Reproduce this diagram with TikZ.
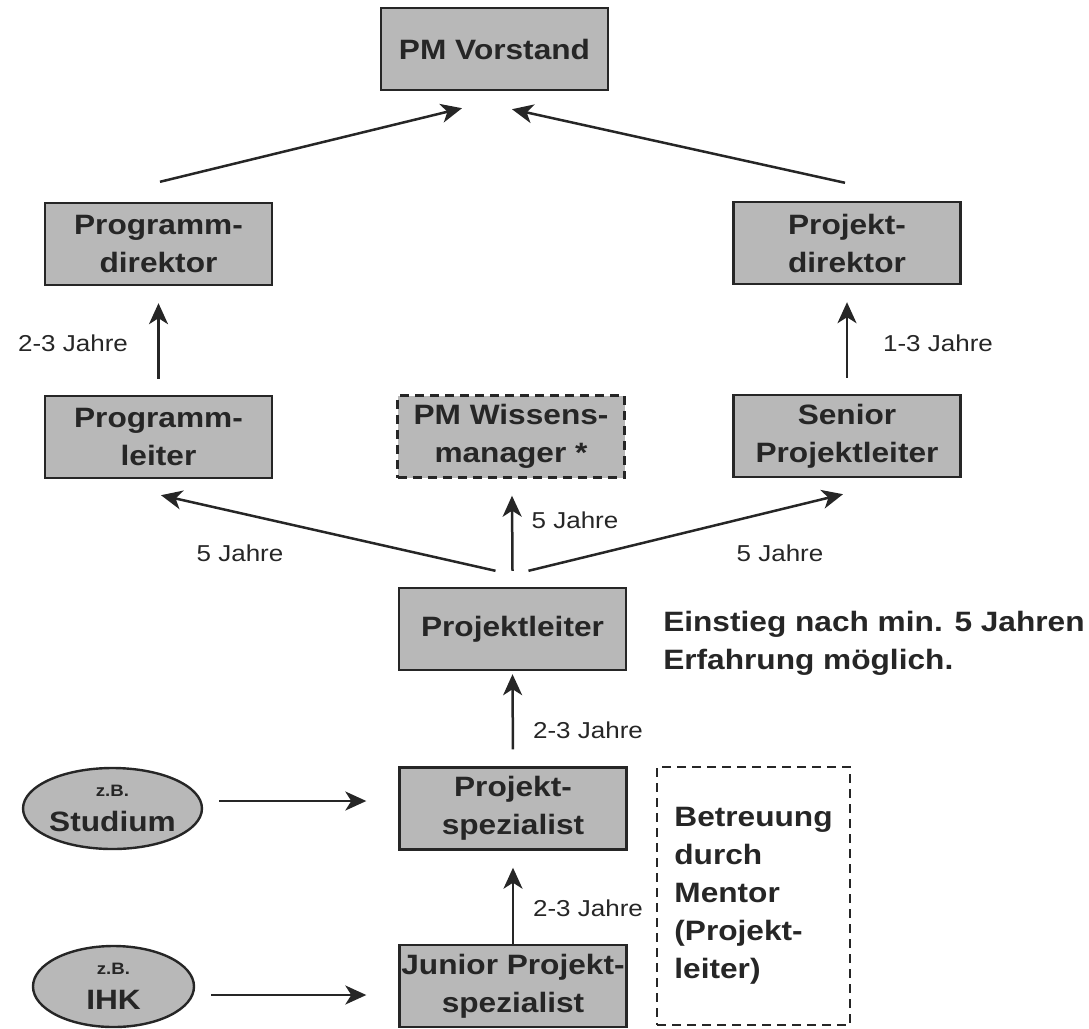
\documentclass[tikz,border=0pt]{standalone}
\usepackage{fontspec}
\setmainfont{Liberation Sans}[FakeStretch=1.13]
\usetikzlibrary{arrows.meta,shapes.geometric,calc}
\definecolor{boxgray}{gray}{0.72}
\definecolor{inkgray}{gray}{0.15}
\newcommand{\stagefont}{\fontsize{28}{38}\selectfont\bfseries}
\newcommand{\yearfont}{\fontsize{23}{28}\selectfont}
\tikzset{
  StageBox/.style = {rectangle, draw = inkgray, fill = boxgray, line width = 2.4pt, text = inkgray, font = \stagefont, align = center, inner sep = 0pt, minimum width = 227pt, minimum height = 82pt},
  OptionalBox/.style = {StageBox, dash pattern = on 9pt off 6pt},
  EntryNode/.style = {ellipse, draw = inkgray, fill = boxgray, line width = 2.4pt, text = inkgray, font = \fontsize{28}{35}\selectfont\bfseries, align = center, inner sep = 0pt, minimum width = 161pt, minimum height = 81pt},
  YearLabel/.style = {text = inkgray, font = \yearfont, inner sep = 0pt},
  NoteText/.style = {text = inkgray, font = \stagefont, align = left, inner sep = 0pt}
}

\begin{document}
\begin{tikzpicture}[x=1pt, y=-1pt, ->, >={Stealth[length=21pt,width=19pt,inset=6pt]}, line width=2.5pt, color=inkgray]
  \useasboundingbox (0,0) rectangle (1089,1028);

  % career stages
  \node [StageBox] (vorstand) at (494.5,49) {PM Vorstand};
  \node [StageBox] (progdir) at (158.5,244) {Programm-\\direktor};
  \node [StageBox] (projdir) at (847,243) {Projekt-\\direktor};
  \node [StageBox] (progleiter) at (158.5,437) {Programm-\\leiter};
  \node [OptionalBox] (wissen) at (511,436.5) {PM Wissens-\\manager *};
  \node [StageBox] (senior) at (847,436) {Senior\\Projektleiter};
  \node [StageBox] (projleiter) at (512.5,629) {Projektleiter};
  \node [StageBox] (projspez) at (513,808.5) {Projekt-\\spezialist};
  \node [StageBox] (junior) at (513,986) {Junior Projekt-\\spezialist};

  % entry points
  \node [EntryNode] (studium) at (112.5,808.5) {{\fontsize{16.5}{35}\selectfont z.B.}\\Studium};
  \node [EntryNode] (ihk) at (113.5,986.5) {{\fontsize{16.5}{35}\selectfont z.B.}\\IHK};

  % notes
  \node [NoteText, anchor=north west] (einstieg) at (662,609.5) {Einstieg nach min. 5 Jahren\\Erfahrung m\"oglich.};
  \node [NoteText, draw=inkgray, dash pattern=on 9pt off 6pt, line width=2pt, minimum width=193pt, minimum height=258pt] (mentor) at (753.5,896) {Betreuung\\durch\\Mentor\\(Projekt-\\leiter)};

  % promotions
  \draw ($(progdir.north)+(1.5,-20)$) -- ($(vorstand.south)+(-32.5,17)$);
  \draw ($(projdir.north)+(-2,-18)$) -- ($(vorstand.south)+(17.5,18)$);
  \draw [shorten <=16pt, shorten >=17pt] (progleiter.north) -- (progdir.south);
  \draw [shorten <=16pt, shorten >=17pt] (senior.north) -- (projdir.south);
  \draw ($(projleiter.north)+(-17,-16)$) -- ($(progleiter.south)+(2.5,16)$);
  \draw ($(projleiter.north)+(0,-16)$) -- ($(wissen.south)+(1,17)$);
  \draw ($(projleiter.north)+(16,-16)$) -- ($(senior.south)+(-4,16)$);
  \draw [shorten <=17pt, shorten >=3pt] (projspez.north) -- (projleiter.south);
  \draw [shorten >=17pt] (junior.north) -- (projspez.south);
  \draw ($(studium.east)+(16,-7.5)$) -- ($(projspez.west)+(-32,-7.5)$);
  \draw ($(ihk.east)+(16,8.5)$) -- ($(junior.west)+(-32,9)$);

  % durations
  \node [YearLabel] (y1) at (73,343) {2-3 Jahre};
  \node [YearLabel] (y2) at (938,343) {1-3 Jahre};
  \node [YearLabel] (y3) at (240,553) {5 Jahre};
  \node [YearLabel] (y4) at (575,520) {5 Jahre};
  \node [YearLabel] (y5) at (780,553) {5 Jahre};
  \node [YearLabel] (y6) at (588,730) {2-3 Jahre};
  \node [YearLabel] (y7) at (588,908) {2-3 Jahre};
\end{tikzpicture}
\end{document}
